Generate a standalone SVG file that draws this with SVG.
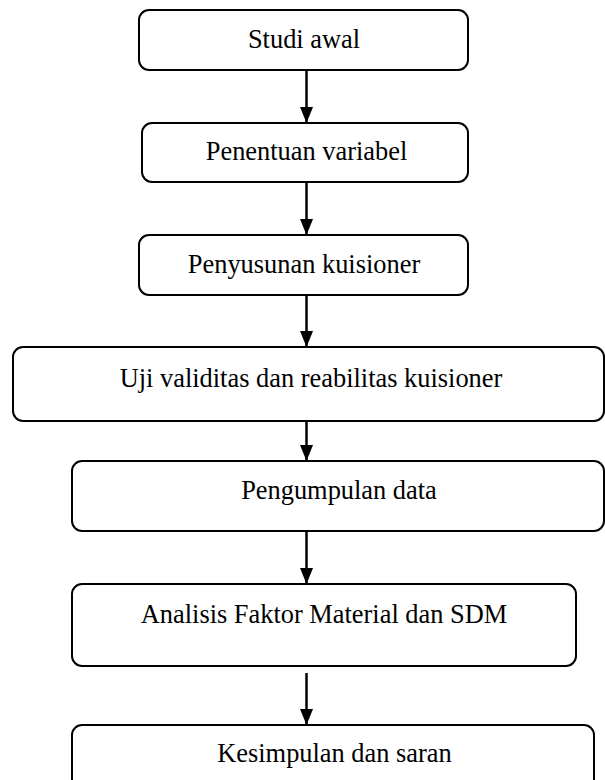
<svg xmlns="http://www.w3.org/2000/svg" width="605" height="780" viewBox="0 0 605 780">
<style>
.box{fill:#fff;stroke:#000;stroke-width:2}
.lbl{font-family:"Liberation Serif","Times New Roman",serif;font-size:26.4px;fill:#000;text-anchor:middle}
.conn{stroke:#000;stroke-width:2.5;fill:none;marker-end:url(#ah)}
</style>
<defs>
<marker id="ah" markerUnits="userSpaceOnUse" markerWidth="16" markerHeight="13" refX="16" refY="6.5" orient="auto">
<path d="M0,0 L16,6.5 L0,13 Z" fill="#000"/>
</marker>
</defs>
<rect width="605" height="780" fill="#fff"/>
<g id="connectors">
<line class="conn" x1="306.5" y1="70" x2="306.5" y2="123"/>
<line class="conn" x1="306.5" y1="182" x2="306.5" y2="235"/>
<line class="conn" x1="306.5" y1="295" x2="306.5" y2="347"/>
<line class="conn" x1="306.5" y1="421" x2="306.5" y2="461"/>
<line class="conn" x1="306.5" y1="531" x2="306.5" y2="584"/>
<line class="conn" x1="306.5" y1="673" x2="306.5" y2="725"/>
</g>
<g id="n1"><rect class="box" x="139" y="10" width="329" height="60" rx="10"/><text class="lbl" x="304" y="48">Studi awal</text></g>
<g id="n2"><rect class="box" x="142" y="123" width="326" height="59" rx="10"/><text class="lbl" x="306.5" y="160">Penentuan variabel</text></g>
<g id="n3"><rect class="box" x="139" y="235" width="329" height="60" rx="10"/><text class="lbl" x="304" y="273">Penyusunan kuisioner</text></g>
<g id="n4"><rect class="box" x="13" y="347" width="591" height="74" rx="10"/><text class="lbl" x="311" y="387">Uji validitas dan reabilitas kuisioner</text></g>
<g id="n5"><rect class="box" x="72" y="461" width="532" height="70" rx="10"/><text class="lbl" x="339" y="499">Pengumpulan data</text></g>
<g id="n6"><rect class="box" x="72" y="584" width="504" height="82" rx="10"/><text class="lbl" x="324" y="623">Analisis Faktor Material dan SDM</text></g>
<g id="n7"><rect class="box" x="72" y="725" width="522" height="70" rx="10"/><text class="lbl" x="334.5" y="762">Kesimpulan dan saran</text></g>
</svg>
